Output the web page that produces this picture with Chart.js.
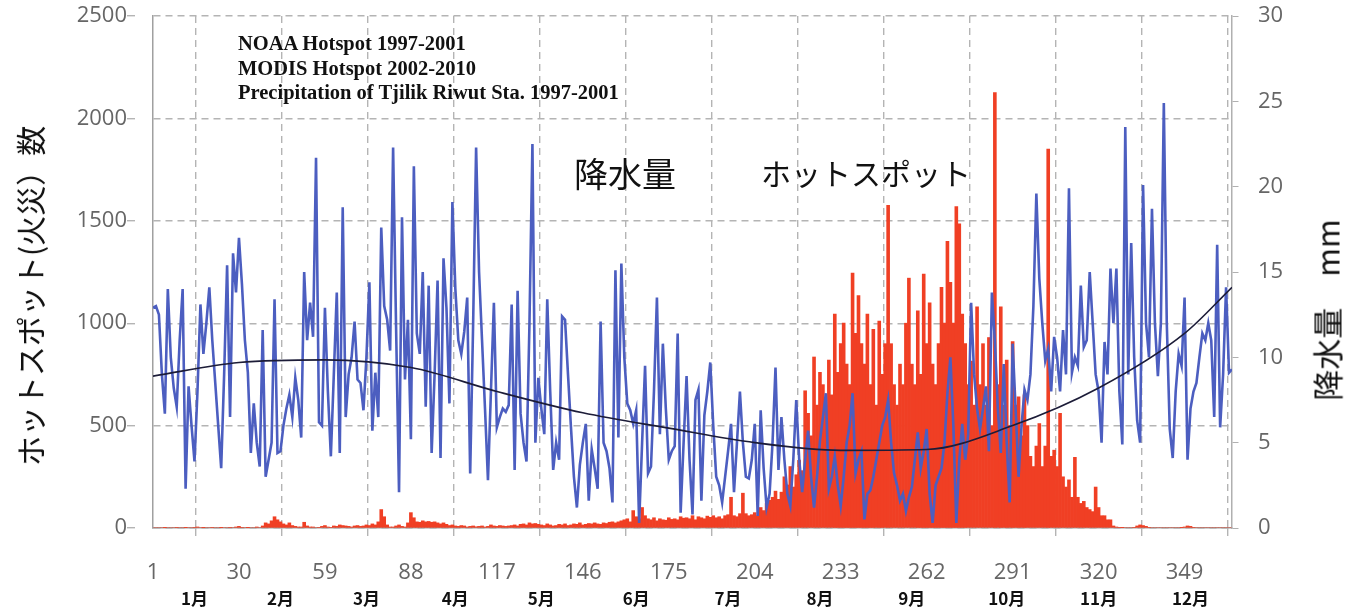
<!DOCTYPE html>
<html lang="ja">
<head>
<meta charset="utf-8">
<script src="https://cdn.jsdelivr.net/npm/chart.js@4.4.1/dist/chart.umd.min.js"></script>
<style>
  body { margin: 0; background: #fff; }
  #wrap { position: relative; width: 1355px; height: 609px; }
  .note { position: absolute; left: 238px; font-family: "Liberation Serif", "DejaVu Serif", serif; font-weight: bold; font-size: 20.5px; color: #111; white-space: nowrap; }
  .label { position: absolute; font-family: "Noto Sans CJK JP", sans-serif; color: #111; white-space: nowrap; transform: translate(-50%, -50%); }
  .vtitle { position: absolute; font-family: "Noto Sans CJK JP", sans-serif; color: #111; white-space: nowrap; transform: translate(-50%, -50%) rotate(-90deg); }
</style>
</head>
<body>
<div id="wrap">
  <canvas id="chart" width="1355" height="609"></canvas>
  <div class="note" style="top:32px">NOAA Hotspot 1997-2001</div>
  <div class="note" style="top:57px">MODIS Hotspot 2002-2010</div>
  <div class="note" style="top:81px">Precipitation of Tjilik Riwut Sta. 1997-2001</div>
  <div class="label" style="left:625px; top:172px; font-size:34px">降水量</div>
  <div class="label" style="left:866px; top:172px; font-size:30px">ホットスポット</div>
  <div class="vtitle" style="left:29px; top:296px; font-size:30px">ホットスポット(火災）数</div>
  <div class="vtitle" style="left:1326px; top:310px; font-size:31px">降水量　mm</div>
</div>
<script>
// --- Data ---
const xTicks = [1, 30, 59, 88, 117, 146, 175, 204, 233, 262, 291, 320, 349];
const hotspotTicks = [0, 500, 1000, 1500, 2000, 2500];
const precipTicks = [0, 5, 10, 15, 20, 25, 30];
const monthLabels = ['1月', '2月', '3月', '4月', '5月', '6月', '7月', '8月', '9月', '10月', '11月', '12月'];
const monthLabelDays = [15, 44, 73, 103, 132, 164, 195, 226, 257, 289, 320, 351];

// daily hotspot counts (left axis)
const hotspots = [
    0, 0, 0, 0, 2, 0, 0, 0, 3, 0,
    0, 2, 0, 0, 3, 5, 0, 2, 0, 0,
    3, 0, 0, 2, 0, 0, 3, 0, 5, 8,
    3, 0, 2, 0, 0, 5, 0, 10, 25, 20,
    35, 55, 40, 30, 20, 15, 25, 12, 8, 5,
    5, 28, 10, 5, 5, 0, 3, 8, 12, 5,
    3, 10, 8, 15, 12, 10, 8, 5, 10, 12,
    8, 10, 15, 12, 20, 15, 30, 90, 55, 15,
    5, 5, 10, 15, 8, 5, 25, 75, 50, 30,
    28, 35, 30, 32, 28, 30, 25, 20, 25, 18,
    12, 15, 10, 8, 12, 10, 5, 8, 10, 6,
    8, 10, 5, 8, 15, 10, 8, 12, 10, 8,
    10, 12, 15, 10, 18, 20, 15, 25, 20, 22,
    18, 15, 12, 20, 15, 10, 12, 18, 15, 20,
    12, 15, 20, 18, 25, 15, 18, 22, 20, 25,
    20, 18, 25, 22, 28, 30, 25, 30, 35, 40,
    45, 30, 85, 55, 45, 100, 60, 45, 40, 50,
    35, 45, 40, 38, 50, 42, 45, 40, 55, 48,
    50, 45, 60, 40, 55, 50, 45, 58, 52, 60,
    50, 55, 45, 60, 65, 150, 60, 55, 70, 170,
    70, 60, 65, 75, 60, 100, 85, 120, 135, 150,
    180, 140, 175, 250, 210, 300, 200, 260, 330, 280,
    670, 560, 450, 835, 600, 760, 700, 600, 820, 650,
    1045, 760, 900, 1000, 800, 700, 1245, 950, 1135, 900,
    800, 1045, 700, 970, 600, 1010, 750, 900, 1575, 900,
    700, 600, 800, 700, 1000, 1220, 800, 700, 1060, 750,
    1240, 900, 1100, 800, 700, 900, 1175, 1000, 1400, 1200,
    1000, 1570, 1485, 1045, 900, 700, 815, 600, 1080, 700,
    900, 600, 930, 500, 2126, 700, 1080, 600, 820, 500,
    910, 600, 640, 450, 650, 500, 350, 300, 400, 510,
    300, 400, 1850, 350, 380, 300, 560, 250, 200, 235,
    150, 345, 150, 120, 130, 100, 90, 80, 200, 100,
    60, 60, 40, 40, 10, 5, 3, 2, 0, 0,
    0, 3, 10, 15, 12, 8, 3, 0, 0, 0,
    0, 0, 0, 0, 0, 0, 0, 2, 5, 10,
    8, 3, 0, 0, 0, 0, 0, 0, 0, 0,
    0, 0, 0, 0, 0
];

// daily precipitation, mm (right axis)
const precip = [
    12.9, 13.0, 12.5, 9.0, 6.7, 14.0, 10.0, 8.2, 7.1, 11.0,
    14.0, 2.3, 8.3, 6.0, 3.9, 8.0, 13.1, 10.2, 12.0, 14.1,
    11.0, 8.5, 6.0, 3.5, 9.0, 15.4, 6.5, 16.1, 13.8, 17.0,
    14.3, 11.0, 9.1, 4.4, 7.3, 5.0, 3.6, 11.6, 3.0, 4.0,
    5.0, 13.4, 4.4, 4.5, 6.0, 7.0, 7.8, 6.5, 8.8, 7.5,
    5.3, 15.0, 11.0, 13.2, 11.2, 21.7, 6.2, 6.0, 12.9, 8.0,
    4.2, 9.0, 13.8, 4.4, 18.8, 6.5, 9.0, 10.0, 12.1, 8.7,
    8.5, 6.9, 10.0, 14.4, 5.7, 9.1, 6.5, 17.6, 13.0, 12.2,
    10.4, 22.3, 11.8, 2.1, 18.2, 8.7, 12.2, 5.2, 21.2, 11.4,
    10.2, 15.0, 7.1, 14.2, 4.4, 9.0, 14.5, 4.1, 15.8, 12.9,
    7.3, 19.1, 14.0, 11.0, 10.2, 11.5, 13.5, 3.2, 12.0, 22.3,
    15.0, 11.0, 7.0, 2.8, 8.0, 13.2, 5.9, 6.5, 7.0, 6.8,
    7.2, 13.1, 3.4, 13.9, 6.7, 5.0, 3.9, 12.0, 22.5, 5.0,
    8.8, 7.0, 5.5, 13.4, 8.0, 3.4, 5.0, 4.0, 12.4, 12.2,
    9.0, 5.9, 3.0, 1.2, 3.7, 5.0, 6.1, 1.6, 4.6, 3.5,
    2.3, 12.1, 5.0, 4.5, 3.5, 1.5, 15.1, 5.3, 15.5, 10.0,
    7.3, 6.9, 6.1, 6.9, 0.3, 5.0, 9.5, 3.2, 3.6, 8.0,
    13.5, 5.5, 10.8, 7.0, 4.0, 4.5, 4.8, 11.4, 0.9, 5.0,
    8.9, 4.0, 0.8, 7.5, 8.1, 1.6, 6.6, 8.0, 9.7, 6.0,
    3.0, 2.5, 1.5, 3.0, 4.5, 6.1, 2.1, 5.0, 8.0, 5.0,
    3.0, 2.9, 4.0, 6.1, 0.7, 6.9, 3.5, 1.2, 2.0, 5.0,
    9.4, 3.4, 6.5, 4.0, 2.0, 1.3, 4.0, 7.5, 4.0, 2.1,
    4.0, 5.7, 3.0, 1.2, 3.0, 5.1, 6.5, 7.9, 2.3, 3.0,
    4.2, 2.5, 1.3, 3.0, 5.0, 6.0, 7.9, 3.2, 4.0, 4.5,
    0.5, 2.0, 2.2, 3.0, 4.0, 5.0, 6.0, 6.5, 7.5, 5.0,
    3.2, 2.5, 1.6, 2.0, 1.0, 1.8, 2.4, 4.0, 5.6, 3.5,
    4.5, 5.8, 2.0, 0.3, 2.5, 3.0, 3.5, 5.0, 7.9, 10.0,
    6.0, 0.3, 4.0, 6.1, 4.0, 5.5, 13.2, 9.0, 7.0, 5.8,
    7.0, 8.3, 4.5, 13.8, 11.0, 7.0, 4.4, 9.6, 5.0, 1.5,
    10.8, 7.0, 3.0, 6.0, 8.1, 7.5, 9.0, 13.0, 19.6, 14.6,
    12.0, 9.8, 10.5, 8.0, 11.2, 10.0, 8.0, 11.6, 9.0, 19.9,
    9.1, 10.0, 9.5, 14.2, 10.6, 11.0, 15.0, 12.0, 9.0, 8.0,
    5.0, 10.9, 9.0, 15.2, 12.0, 15.2, 8.0, 4.9, 23.5, 9.0,
    16.7, 10.0, 6.3, 5.0, 20.1, 12.0, 10.0, 18.7, 12.0, 8.9,
    12.0, 24.9, 12.0, 5.8, 4.1, 8.0, 10.2, 9.5, 13.5, 4.0,
    7.0, 8.0, 8.5, 10.0, 11.4, 11.0, 12.0, 11.0, 6.5, 16.6,
    5.9, 9.0, 14.1, 9.1, 9.3
];

// smooth precipitation trend (black curve), read at a few days
const trendDays = [1, 30, 59, 88, 117, 146, 175, 204, 233, 262, 291, 320, 349, 365];
const trendValues = [8.9, 9.7, 9.85, 9.4, 8.0, 6.75, 5.85, 5.0, 4.55, 4.6, 6.0, 8.2, 11.4, 14.1];

const days = hotspots.map((_, i) => i + 1);

const gridGray = '#b4b4b4';
const tickFont = { family: '"Open Sans", sans-serif', size: 22 };
const plainLabel = v => String(v);

// month names under the day numbers
const monthPlugin = {
    id: 'months',
    afterDraw(chart) {
        const { ctx, scales: { x } } = chart;
        ctx.save();
        ctx.fillStyle = '#111';
        ctx.font = 'bold 17px "Noto Sans CJK JP", sans-serif';
        ctx.textAlign = 'center';
        ctx.textBaseline = 'middle';
        monthLabels.forEach((m, i) => {
            ctx.fillText(m, x.getPixelForValue(monthLabelDays[i]), 599);
        });
        ctx.restore();
    }
};

new Chart(document.getElementById('chart'), {
    type: 'bar',
    data: {
        datasets: [
            {
                type: 'line',
                data: trendDays.map((d, i) => ({ x: d, y: trendValues[i] })),
                yAxisID: 'y1',
                borderColor: '#1c1c38',
                borderWidth: 1.6,
                pointRadius: 0,
                cubicInterpolationMode: 'monotone',
                order: 0
            },
            {
                type: 'line',
                data: days.map((d, i) => ({ x: d, y: precip[i] })),
                yAxisID: 'y1',
                borderColor: '#4c5ec0',
                borderWidth: 2.6,
                pointRadius: 0,
                tension: 0,
                order: 1
            },
            {
                type: 'bar',
                data: days.map((d, i) => ({ x: d, y: hotspots[i] })),
                yAxisID: 'y',
                backgroundColor: '#f03f24',
                barPercentage: 1,
                categoryPercentage: 1,
                borderWidth: 0,
                order: 2
            }
        ]
    },
    options: {
        responsive: false,
        animation: false,
        layout: { padding: { top: 16, left: 0, right: 0, bottom: 0 } },
        plugins: { legend: { display: false }, tooltip: { enabled: false } },
        scales: {
            x: {
                type: 'linear',
                offset: false,
                min: 1,
                max: 365,
                afterBuildTicks: axis => { axis.ticks = xTicks.map(v => ({ value: v })); },
                afterFit: axis => { axis.height = 81; },
                ticks: { font: tickFont, color: '#666', padding: 24, maxRotation: 0, autoSkip: false, callback: plainLabel },
                grid: {
                    color: c => (c.tick && c.tick.value === 1 ? 'rgba(0,0,0,0)' : gridGray),
                    lineWidth: 1.4,
                    tickLength: 8,
                    tickColor: gridGray
                },
                border: { color: '#a0a0a0', width: 1.5, dash: [7, 5] }
            },
            y: {
                position: 'left',
                min: 0,
                max: 2500,
                afterBuildTicks: axis => { axis.ticks = hotspotTicks.map(v => ({ value: v })); },
                afterFit: axis => { axis.width = 153; },
                // long invisible tick keeps the label gap without extra top padding
                ticks: { font: tickFont, color: '#666', padding: 0, callback: plainLabel },
                grid: { color: gridGray, lineWidth: 1.4, tickLength: 26, tickColor: gridGray, tickBorderDash: [8, 40] },
                border: { color: '#a0a0a0', width: 1.5, dash: [7, 5] }
            },
            y1: {
                position: 'right',
                min: 0,
                max: 30,
                afterBuildTicks: axis => { axis.ticks = precipTicks.map(v => ({ value: v })); },
                afterFit: axis => { axis.width = 123; },
                ticks: { font: tickFont, color: '#666', padding: 0, callback: plainLabel },
                grid: { drawOnChartArea: false, tickLength: 26, tickColor: '#b0b0b0', tickBorderDash: [6, 40] },
                border: { color: '#b0b0b0', width: 1.5 }
            }
        }
    },
    plugins: [monthPlugin]
});
</script>
</body>
</html>
